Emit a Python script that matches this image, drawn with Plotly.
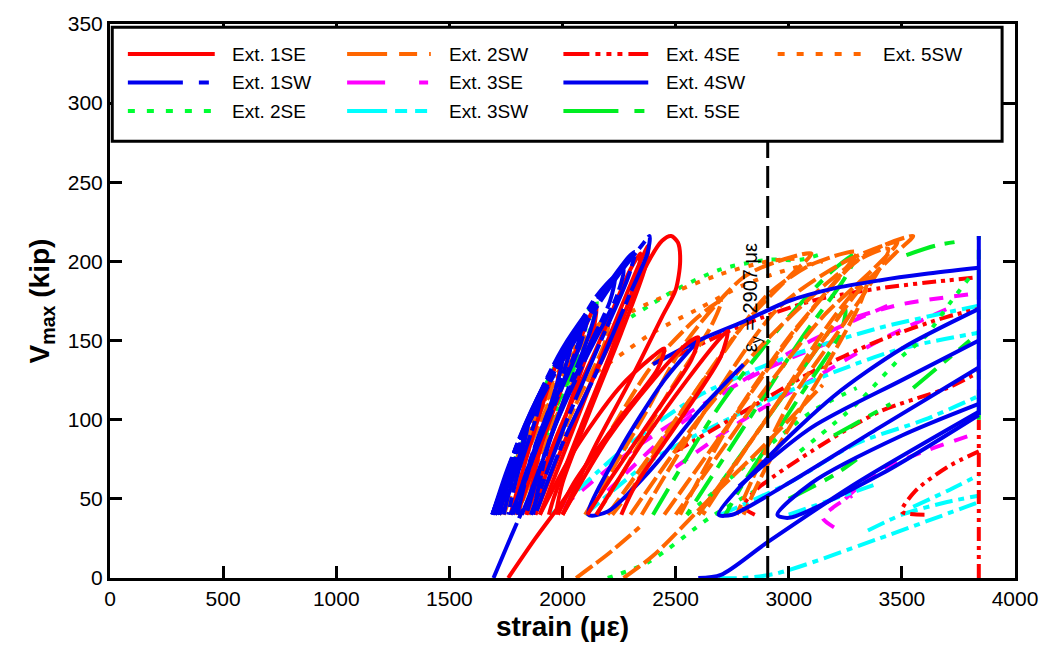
import plotly.graph_objects as go

# ---------------- data (strain in micro-strain, V in kip), segments of (strain, V) ----------------
ext1SE = [
    [(1760, 0), (1880, 25), (2013, 51), (2150, 82)],
    [(1880, 40), (2050, 100), (2250, 160), (2380, 200), (2440, 213), (2480, 216), (2510, 212), (2520, 200), (2500, 182), (2440, 165), (2300, 125), (2150, 85), (2000, 40)],
    [(1840, 40), (1990, 95), (2150, 145), (2300, 195), (2345, 205), (2330, 192), (2220, 145), (2080, 95), (1960, 50), (1940, 40)],
    [(1800, 40), (1920, 90), (2050, 140), (2130, 168), (2150, 172), (2130, 152), (2020, 105), (1910, 58), (1880, 40)],
    [(1770, 40), (1880, 95), (1980, 138), (2000, 143), (1975, 122), (1890, 75), (1840, 40)],
    [(1900, 40), (2050, 95), (2200, 150), (2360, 205), (2380, 210), (2365, 196), (2260, 155), (2120, 105), (2000, 60), (1970, 40)],
    [(2000, 40), (2200, 88), (2400, 125), (2550, 148), (2600, 152), (2570, 138), (2400, 102), (2200, 60), (2110, 40)],
    [(2150, 40), (2350, 85), (2550, 125), (2700, 152), (2730, 156), (2700, 140), (2520, 100), (2320, 58), (2260, 40)],
    [(1900, 40), (2050, 80), (2250, 120), (2400, 140), (2450, 145), (2420, 132), (2250, 100), (2050, 60), (1980, 40)],
]
ext1SW = [
    [(1695, 0), (1760, 22), (1830, 45)],
    [(1690, 40), (1800, 82), (1950, 125), (2100, 160), (2250, 192), (2350, 210), (2385, 216), (2375, 205), (2300, 180), (2150, 130), (2000, 85), (1880, 40)],
    [(1700, 40), (1830, 92), (1980, 135), (2150, 175), (2300, 204), (2320, 206), (2290, 190), (2170, 150), (2020, 100), (1900, 55), (1860, 40)],
    [(1700, 40), (1820, 90), (1950, 130), (2100, 165), (2150, 172), (2120, 155), (2000, 110), (1880, 62), (1820, 40)],
    [(1690, 40), (1780, 75), (1880, 108), (1980, 135), (2000, 138), (1960, 115), (1860, 75), (1780, 40)],
    [(1700, 40), (1760, 65), (1830, 92), (1850, 98), (1820, 80), (1760, 52), (1740, 40)],
    [(1720, 40), (1850, 100), (2000, 145), (2200, 185), (2270, 195), (2240, 178), (2100, 138), (1950, 90), (1840, 40)],
    [(1690, 40), (1760, 70), (1850, 100), (1900, 112), (1880, 100), (1800, 65), (1760, 40)],
    [(1700, 40), (1800, 85), (1920, 122), (2050, 150), (2080, 155), (2050, 140), (1930, 100), (1820, 55), (1790, 40)],
    [(1710, 40), (1850, 98), (2000, 140), (2150, 178), (2230, 190), (2210, 175), (2080, 135), (1940, 85), (1870, 40)],
    [(1695, 40), (1790, 80), (1900, 115), (2020, 145), (2040, 148), (2000, 128), (1890, 88), (1800, 50), (1770, 40)],
    [(1690, 40), (1740, 60), (1800, 84), (1830, 90), (1800, 72), (1740, 46), (1720, 40)],
    [(1700, 40), (1810, 88), (1940, 128), (2080, 160), (2110, 165), (2080, 148), (1960, 108), (1850, 68), (1800, 40)],
]
ext2SE = [
    [(2200, 0), (2380, 10), (2650, 38), (2850, 55)],
    [(2250, 160), (2500, 182), (2700, 195), (2907, 201), (3050, 201), (3150, 205)],
    [(3050, 80), (3300, 110), (3500, 140), (3600, 152), (3714, 174), (3800, 190)],
    [(1710, 40), (1840, 95), (1990, 140), (2150, 175), (2130, 160), (2000, 115), (1850, 60), (1800, 40)],
    [(2550, 40), (2800, 70), (3100, 105), (3300, 120)],
]
ext2SW = [
    [(2060, 0), (2200, 15), (2340, 32)],
    [(2270, 0), (2400, 14), (2650, 50), (2907, 86), (3150, 122)],
    [(1700, 40), (1850, 92), (2000, 132), (2100, 150), (2080, 135), (1950, 95), (1800, 40)],
    [(1740, 40), (1900, 98), (2050, 140), (2200, 165), (2190, 150), (2060, 110), (1910, 62), (1850, 40)],
    [(1720, 40), (1820, 78), (1920, 110), (1960, 118), (1930, 100), (1840, 62), (1790, 40)],
    [(2300, 40), (2600, 100), (2900, 150), (3200, 190), (3400, 209), (3550, 216), (3470, 205), (3300, 180), (3100, 140), (2850, 90), (2620, 40)],
    [(2450, 40), (2750, 100), (3050, 160), (3300, 200), (3440, 208), (3400, 195), (3250, 162), (3000, 110), (2770, 40)],
    [(2200, 40), (2450, 90), (2700, 140), (2900, 178), (3100, 198), (3300, 206), (3220, 190), (3000, 152), (2750, 100), (2520, 40)],
    [(2000, 40), (2200, 90), (2400, 135), (2600, 165), (2700, 175), (2660, 160), (2460, 115), (2260, 65), (2150, 40)],
    [(2600, 40), (2900, 100), (3200, 165), (3350, 190), (3320, 175), (3150, 130), (2900, 70), (2800, 40)],
    [(2100, 40), (2350, 100), (2550, 150), (2800, 190), (2950, 200), (3100, 205), (3000, 190), (2800, 160), (2550, 110), (2300, 55), (2220, 40)],
    [(2350, 40), (2650, 110), (2950, 170), (3250, 200), (3480, 212), (3380, 196), (3150, 165), (2900, 120), (2650, 70), (2500, 40)],
]
ext3SE = [
    [(2200, 55), (2500, 95), (2800, 125), (3100, 150), (3436, 172)],
    [(2500, 70), (2800, 100), (3100, 125), (3400, 150), (3700, 170)],
    [(3300, 165), (3500, 173), (3840, 180)],
    [(2000, 45), (2300, 80), (2600, 108), (2900, 132), (3200, 150)],
    [(3250, 50), (3400, 68), (3600, 80), (3800, 90)],
    [(3200, 32), (3150, 38), (3200, 45), (3280, 52)],
]
ext3SW = [
    [(2690, 0), (2800, 0), (2950, 3), (3400, 25), (3840, 48)],
    [(1950, 40), (2300, 85), (2600, 115), (3000, 140), (3400, 158), (3840, 172)],
    [(2100, 40), (2400, 75), (2800, 105), (3200, 130), (3500, 145), (3840, 155)],
    [(2700, 40), (3000, 60), (3300, 85), (3600, 100), (3840, 115)],
    [(3000, 40), (3200, 50), (3400, 60)],
    [(3550, 45), (3700, 55), (3840, 65)],
    [(3350, 30), (3500, 40), (3700, 48), (3840, 52)],
]
ext4SE = [
    [(2500, 140), (2800, 160), (3100, 175), (3400, 183), (3700, 188), (3840, 190)],
    [(2850, 40), (2800, 45), (2850, 55), (3100, 80), (3400, 105), (3700, 120), (3840, 130)],
    [(3600, 40), (3500, 42), (3560, 55), (3700, 70), (3840, 80)],
    [(2500, 80), (2800, 105), (3100, 130), (3400, 150), (3700, 165), (3840, 170)],
    [(3840, 0), (3840, 100)],
]
ext4SW = [
    [(2600, 0), (2700, 2), (2900, 22), (3300, 60), (3840, 105)],
    [(2600, 150), (2450, 125), (2250, 80), (2115, 40), (2200, 42), (2400, 70), (2600, 105), (2800, 135)],
    [(2400, 135), (2600, 150), (2800, 162), (3000, 175), (3200, 183), (3400, 188), (3600, 192), (3840, 196)],
    [(3840, 170), (3500, 145), (3200, 115), (2900, 75), (2690, 40), (2750, 40), (3000, 60), (3400, 95), (3840, 133)],
    [(3840, 110), (3500, 90), (3100, 60), (2950, 40), (3000, 38), (3400, 65), (3840, 103)],
    [(2780, 58), (3100, 95), (3500, 125), (3840, 150)],
    [(3840, 103), (3840, 216)],
]
ext5SE = [
    [(2400, 40), (2700, 110), (3000, 165), (3200, 195), (3300, 205), (3250, 190), (3050, 150), (2800, 95), (2550, 40)],
    [(2600, 40), (2900, 100), (3150, 150), (3250, 170), (3230, 155), (3050, 115), (2800, 60), (2720, 40)],
    [(3520, 204), (3650, 210), (3770, 213)],
    [(3000, 50), (3200, 65), (3300, 75)],
    [(3200, 90), (3450, 110)],
    [(3550, 120), (3800, 150)],
    [(3840, 100), (3840, 216)],
    [(1720, 40), (1860, 100), (2000, 140), (2100, 158), (2080, 145), (1950, 100), (1800, 40)],
]
ext5SW = [
    [(1720, 40), (1850, 95), (1980, 130), (2080, 150), (2300, 168), (2500, 181), (2700, 192), (2907, 200), (3050, 202)],
    [(2150, 130), (2400, 155), (2600, 170), (2800, 185), (3000, 195), (3150, 200)],
]

yield_strain = 2907
x_ticks = [0, 500, 1000, 1500, 2000, 2500, 3000, 3500, 4000]
y_ticks = [0, 50, 100, 150, 200, 250, 300, 350]

# ---------------- styles ----------------
FONT = "Liberation Sans, Arial, sans-serif"
series = [
    # name, data, colour, trace dash, legend dash, row, col
    ("Ext. 3SE", ext3SE, "#ff00ff", "14px,11px", "38px,34px,9px,20px", 1, 1),
    ("Ext. 3SW", ext3SW, "#00ffff", "18px,6px,6px,6px", "40px,8px,12px,8px,12px,8px", 2, 1),
    ("Ext. 4SE", ext4SE, "#ff0000", "14px,5px,4px,5px,4px,5px", "26px,6px,5px,6px,5px,6px,5px,6px", 0, 2),
    ("Ext. 2SE", ext2SE, "#00ff33", "5px,9px", "7px,12px", 2, 0),
    ("Ext. 5SE", ext5SE, "#00ee22", "30px,10px,10px,10px", "55px,16px,10px,10px", 2, 2),
    ("Ext. 5SW", ext5SW, "#ff6600", "5px,9px", "7px,12px", 0, 3),
    ("Ext. 2SW", ext2SW, "#ff6600", "20px,5px", "40px,12px,18px,12px", 0, 1),
    ("Ext. 4SW", ext4SW, "#0000ee", "solid", "solid", 1, 2),
    ("Ext. 1SE", ext1SE, "#ff0000", "solid", "solid", 0, 0),
    ("Ext. 1SW", ext1SW, "#0000ee", "60px,5px,10px,5px", "55px,16px,10px,10px", 1, 0),
]

fig = go.Figure()
for name, segs, color, dash, _, _, _ in series:
    xs, ys = [], []
    for seg in segs:
        xs += [p[0] for p in seg] + [None]
        ys += [p[1] for p in seg] + [None]
    fig.add_trace(go.Scatter(x=xs, y=ys, mode="lines", name=name, showlegend=False,
                             line=dict(color=color, width=4, dash=dash, shape="spline", smoothing=0.8),
                             connectgaps=False))

shapes = []
annotations = []
# yield line
shapes.append(dict(type="line", xref="x", yref="y", x0=yield_strain, x1=yield_strain, y0=0, y1=277,
                   line=dict(color="black", width=3, dash="22px,8px"), layer="above"))
annotations.append(dict(x=2835, y=177, xref="x", yref="y", text="ε<sub>y</sub> = 2907 με", showarrow=False,
                        textangle=-90, font=dict(family=FONT, size=20, color="black")))

# legend box (drawn manually)
shapes.append(dict(type="rect", xref="x", yref="y", x0=10, x1=3943, y0=276, y1=348,
                   fillcolor="white", line=dict(color="black", width=3), layer="above"))
col_x = [(79, 463, 529), (1048, 1418, 1489), (2004, 2379, 2449), (2951, 3326, 3409)]
row_y = [331, 313, 295]
for name, _, color, _, ldash, r, c in series:
    x0, x1, xt = col_x[c]
    yv = row_y[r]
    shapes.append(dict(type="line", xref="x", yref="y", x0=x0, x1=x1, y0=yv, y1=yv,
                       line=dict(color=color, width=4, dash=ldash), layer="above"))
    annotations.append(dict(x=xt, y=yv, xref="x", yref="y", text=name, showarrow=False, xanchor="left",
                            yanchor="middle", font=dict(family=FONT, size=19, color="black")))

axis_common = dict(showgrid=False, zeroline=False, showline=True, linecolor="black", linewidth=3,
                   mirror="ticks", ticks="inside", ticklen=12, tickwidth=2.5, tickcolor="black",
                   tickfont=dict(family=FONT, size=21, color="black"))
fig.update_layout(
    width=1050, height=660,
    margin=dict(l=110, r=32, t=18, b=82),
    plot_bgcolor="white", paper_bgcolor="white",
    shapes=shapes, annotations=annotations,
    xaxis=dict(range=[0, 4000], tickvals=x_ticks,
               title=dict(text="<b>strain (με)</b>", font=dict(family=FONT, size=28, color="black"), standoff=8),
               **axis_common),
    yaxis=dict(range=[0, 350], tickvals=y_ticks,
               title=dict(text="<b>V<sub>max</sub> (kip)</b>", font=dict(family=FONT, size=28, color="black"), standoff=10),
               **axis_common),
)
fig.write_html("out.html")
